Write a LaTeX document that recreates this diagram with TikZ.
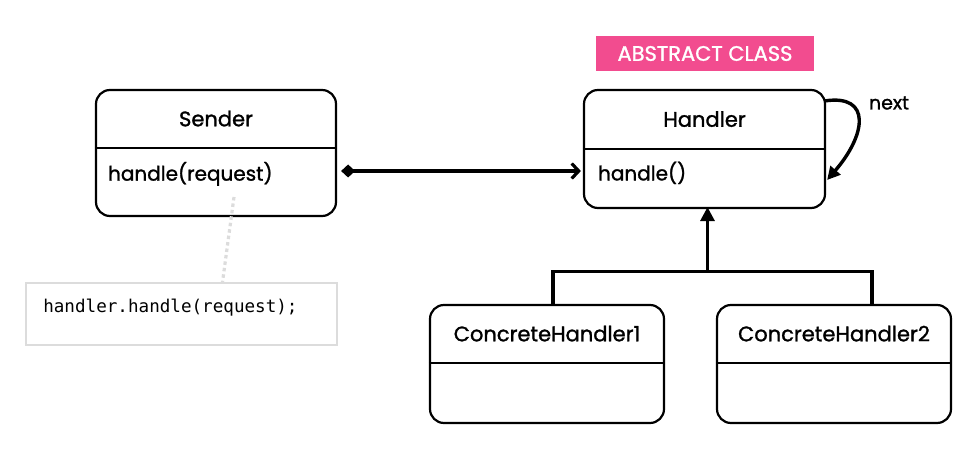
\documentclass[tikz,border=0pt]{standalone}
\usepackage{fontspec}
\setmainfont{Poppins}[FakeBold=1.3]
\setmonofont{DejaVu Sans Mono}
\usetikzlibrary{arrows.meta,positioning,calc}
\definecolor{tagpink}{HTML}{F24C8F}
\definecolor{notegray}{HTML}{DCDCDC}
\definecolor{ink}{HTML}{000000}

\begin{document}
\begin{tikzpicture}[
  x=1pt, y=-1pt,
  cls/.style={draw=ink, line width=2.2pt, rounded corners=14pt, inner sep=0pt},
  clsname/.style={inner sep=0pt, anchor=north, font=\fontsize{21}{24}\selectfont},
  op/.style={inner sep=0pt, anchor=west, font=\fontsize{20}{24}\selectfont},
  divider/.style={draw=ink, line width=2.2pt},
  tag/.style={fill=tagpink, text=white, inner sep=0pt, minimum width=218pt, minimum height=35pt, font=\fontsize{21}{24}\selectfont},
  note/.style={draw=notegray, line width=1.8pt, inner sep=0pt, minimum width=311pt, minimum height=62pt},
  notelink/.style={draw=notegray, line width=3.2pt, dash pattern=on 3.5pt off 3pt},
  assoc/.style={{Diamond[length=14pt,width=13pt]}-{Straight Barb[length=7pt,width=15pt]}, line width=3.2pt, draw=ink},
  selfref/.style={-{Triangle[length=13pt,width=13pt]}, line width=3.4pt, draw=ink},
  tree/.style={line width=3.2pt, draw=ink},
  inherit/.style={-{Triangle[length=14pt,width=14pt]}, line width=3.2pt, draw=ink}
]
\useasboundingbox (0,0) rectangle (980,449);

% Sender
\node[cls, minimum width=240pt, minimum height=126pt] (sender) at (216,153) {};
\node[clsname, minimum height=59pt] (senderName) at (sender.north) {Sender};
\draw[divider] ([yshift=-59pt]sender.north west) -- ([yshift=-59pt]sender.north east);
\node[op] (senderOp) at ([xshift=13pt,yshift=-85pt]sender.north west) {handle(request)};

% Handler
\node[tag] (abstract) at (705,53.5) {ABSTRACT CLASS};
\node[cls, minimum width=241pt, minimum height=118pt] (handler) at (704.5,149) {};
\node[clsname, minimum height=60pt] (handlerName) at (handler.north) {Handler};
\draw[divider] ([yshift=-60pt]handler.north west) -- ([yshift=-60pt]handler.north east);
\node[op] (handlerOp) at ([xshift=15pt,yshift=-84pt]handler.north west) {handle()};
\node[inner sep=0pt, font=\fontsize{19}{22}\selectfont] (next) at (889,103) {next};

% concrete handlers
\node[cls, minimum width=234pt, minimum height=118pt] (ch1) at (547,364) {};
\node[clsname, minimum height=59pt] (ch1Name) at (ch1.north) {ConcreteHandler1};
\draw[divider] ([yshift=-59pt]ch1.north west) -- ([yshift=-59pt]ch1.north east);
\node[cls, minimum width=234pt, minimum height=118pt] (ch2) at (834,364) {};
\node[clsname, minimum height=59pt] (ch2Name) at (ch2.north) {ConcreteHandler2};
\draw[divider] ([yshift=-59pt]ch2.north west) -- ([yshift=-59pt]ch2.north east);

% note
\node[note] (code) at (181.5,314) {};
\node[op, font=\ttfamily\fontsize{17.6}{20}\selectfont] (codeText) at ([xshift=18pt,yshift=6pt]code.west) {handler.handle(request);};
\coordinate (tap) at (234,197);

\draw[notelink] (tap) -- ([xshift=41pt]code.north);
\draw[assoc] ($(sender.east)+(4,18)$) -- ($(handler.west)+(-2,22)$);
\draw[selfref] ($(handler.north east)+(-1,12)$) .. controls (872,94) and (866,135) .. ($(handler.east)+(1,31)$);
\coordinate (fork) at ($(handler.south)+(3,62)$);
\draw[tree] ([xshift=6pt]ch1.north) |- (fork) -| ([xshift=38pt]ch2.north);
\draw[inherit] (fork) -- ([xshift=3pt,yshift=2pt]handler.south);
\end{tikzpicture}
\end{document}
